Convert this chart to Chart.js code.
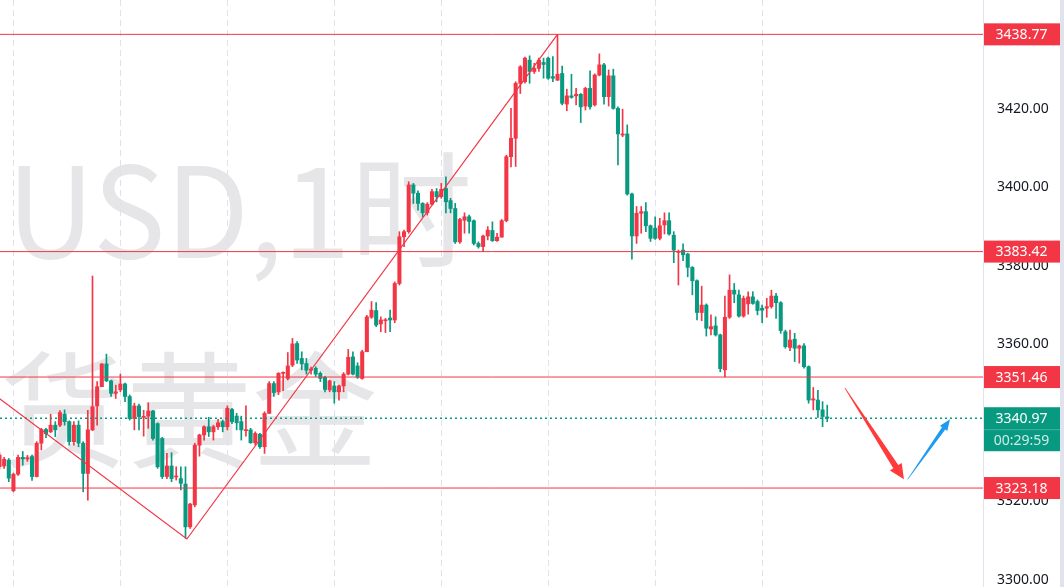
<!DOCTYPE html>
<html>
<head>
<meta charset="utf-8">
<script src="https://cdn.jsdelivr.net/npm/chart.js@4/dist/chart.umd.min.js"></script>
<style>
  html, body { margin: 0; padding: 0; background: #ffffff; }
  #wrap { width: 1064px; height: 587px; position: relative; }
</style>
</head>
<body>
<div id="wrap"><canvas id="goldChart"></canvas></div>
<script>
// hourly candles, XAUUSD
const opens = [
  3328.6, 3328.8, 3330.3, 3322.5, 3326.7, 3331.0, 3330.6, 3331.2, 3326.1, 3334.6,
  3338.1, 3337.5, 3339.2, 3339.2, 3342.0, 3340.1, 3335.0, 3339.2, 3334.6, 3326.9,
  3338.0, 3344.1, 3349.0, 3354.8, 3350.5, 3347.3, 3348.2, 3349.7, 3346.5, 3340.9,
  3344.1, 3341.2, 3341.5, 3342.8, 3339.6, 3335.8, 3326.1, 3328.8, 3326.0, 3325.6,
  3324.2, 3313.3, 3318.9, 3334.1, 3336.7, 3338.8, 3337.5, 3338.8, 3340.1, 3338.8,
  3343.2, 3341.5, 3340.1, 3337.8, 3338.0, 3334.7, 3336.9, 3333.7, 3342.2, 3349.8,
  3347.7, 3352.4, 3351.1, 3354.5, 3360.0, 3356.2, 3354.9, 3353.2, 3353.7, 3352.4,
  3351.4, 3348.2, 3349.2, 3347.7, 3349.2, 3352.2, 3356.6, 3354.3, 3351.1, 3357.9,
  3366.7, 3368.4, 3365.0, 3365.8, 3366.5, 3366.0, 3375.3, 3387.2, 3388.5, 3400.4,
  3398.3, 3395.7, 3393.3, 3395.5, 3398.7, 3397.4, 3399.5, 3396.4, 3394.4, 3385.9,
  3391.4, 3392.3, 3391.3, 3385.5, 3384.7, 3387.4, 3388.8, 3386.2, 3387.1, 3391.3,
  3407.6, 3412.3, 3426.3, 3426.7, 3432.2, 3429.3, 3430.1, 3431.6, 3432.7, 3428.0,
  3427.1, 3428.8, 3421.0, 3423.1, 3423.1, 3423.5, 3420.5, 3425.0, 3420.8, 3428.4,
  3431.0, 3422.9, 3428.2, 3419.9, 3413.1, 3413.4, 3398.1, 3387.4, 3393.2, 3393.6,
  3390.0, 3389.4, 3386.8, 3390.2, 3391.3, 3387.6, 3383.2, 3383.8, 3382.8, 3379.4,
  3376.0, 3367.9, 3369.8, 3363.7, 3364.5, 3362.2, 3353.3, 3366.7, 3373.6, 3372.4,
  3367.0, 3370.1, 3371.9, 3370.7, 3369.0, 3369.0, 3369.4, 3372.1, 3370.4, 3363.0,
  3359.0, 3361.1, 3358.8, 3359.4, 3354.1, 3345.6, 3345.6, 3343.1, 3341.3
];
const highs = [
  3332.2, 3331.0, 3330.7, 3327.0, 3331.6, 3332.5, 3331.5, 3331.6, 3335.0, 3338.4,
  3338.4, 3342.0, 3340.1, 3342.9, 3343.1, 3340.3, 3340.1, 3340.3, 3335.0, 3343.0,
  3377.2, 3350.3, 3354.9, 3357.3, 3350.7, 3349.4, 3352.2, 3349.9, 3346.9, 3344.8,
  3344.6, 3343.0, 3344.9, 3343.0, 3339.8, 3336.1, 3332.0, 3332.2, 3328.6, 3328.6,
  3328.6, 3319.3, 3334.6, 3336.9, 3339.0, 3341.2, 3339.2, 3340.7, 3340.5, 3344.1,
  3343.5, 3342.2, 3341.5, 3344.1, 3338.4, 3337.5, 3337.1, 3342.6, 3350.3, 3350.3,
  3352.6, 3352.8, 3357.7, 3361.3, 3360.5, 3357.9, 3356.2, 3354.0, 3354.1, 3352.8,
  3351.7, 3350.7, 3350.3, 3349.4, 3352.6, 3358.5, 3357.9, 3355.1, 3358.3, 3367.2,
  3370.7, 3370.4, 3366.8, 3366.4, 3368.5, 3375.7, 3388.5, 3388.9, 3401.2, 3400.8,
  3398.9, 3395.9, 3395.9, 3399.3, 3399.5, 3400.8, 3402.5, 3397.0, 3395.7, 3391.9,
  3393.3, 3392.7, 3391.5, 3385.9, 3387.6, 3389.8, 3391.0, 3388.1, 3391.6, 3408.0,
  3419.9, 3426.7, 3430.8, 3433.0, 3433.3, 3431.4, 3432.7, 3432.7, 3433.0, 3433.1,
  3438.77, 3430.7, 3424.8, 3428.6, 3425.0, 3423.7, 3425.3, 3429.5, 3428.7, 3433.8,
  3431.4, 3429.7, 3429.9, 3420.3, 3419.7, 3415.7, 3398.3, 3394.9, 3394.9, 3395.9,
  3390.2, 3392.3, 3391.9, 3393.3, 3393.3, 3388.5, 3383.8, 3385.4, 3383.0, 3379.6,
  3376.2, 3374.6, 3370.1, 3367.3, 3366.8, 3362.4, 3372.1, 3377.5, 3375.3, 3373.6,
  3372.1, 3373.2, 3373.2, 3371.1, 3369.8, 3371.5, 3373.6, 3372.8, 3370.7, 3363.4,
  3363.4, 3362.6, 3359.6, 3360.0, 3354.3, 3348.8, 3348.1, 3345.2, 3344.3
];
const lows = [
  3328.0, 3328.2, 3324.8, 3322.2, 3326.4, 3329.0, 3330.0, 3325.1, 3326.0, 3332.9,
  3336.0, 3337.3, 3336.3, 3338.8, 3339.2, 3334.1, 3334.1, 3333.7, 3322.2, 3320.1,
  3337.8, 3339.2, 3349.0, 3350.3, 3346.5, 3346.0, 3347.7, 3345.2, 3340.5, 3338.0,
  3338.0, 3336.4, 3338.4, 3335.4, 3328.2, 3325.6, 3325.6, 3324.8, 3325.2, 3322.7,
  3310.4, 3312.9, 3318.4, 3331.3, 3335.4, 3336.3, 3335.4, 3338.1, 3337.5, 3338.0,
  3339.6, 3338.0, 3335.4, 3336.4, 3334.6, 3334.1, 3333.3, 3332.0, 3342.2, 3346.5,
  3347.0, 3348.0, 3350.7, 3354.1, 3354.9, 3353.3, 3352.2, 3352.2, 3351.6, 3350.3,
  3347.7, 3347.7, 3344.8, 3345.6, 3347.7, 3352.0, 3352.0, 3351.1, 3350.9, 3357.9,
  3366.4, 3364.3, 3363.0, 3362.8, 3363.0, 3365.3, 3374.9, 3384.7, 3388.1, 3395.7,
  3394.0, 3392.3, 3392.7, 3395.3, 3396.1, 3397.0, 3393.3, 3393.3, 3385.5, 3385.5,
  3388.1, 3388.1, 3385.1, 3384.3, 3383.4, 3386.4, 3386.0, 3386.0, 3387.1, 3391.0,
  3405.0, 3405.1, 3423.7, 3426.3, 3426.3, 3428.8, 3429.3, 3427.6, 3427.3, 3426.7,
  3427.0, 3420.8, 3419.3, 3422.5, 3420.8, 3416.3, 3419.5, 3419.7, 3420.5, 3428.2,
  3421.0, 3420.5, 3419.7, 3405.5, 3412.7, 3397.8, 3381.5, 3385.5, 3388.1, 3388.5,
  3386.0, 3386.5, 3386.4, 3387.9, 3387.6, 3380.6, 3374.9, 3381.1, 3377.0, 3372.4,
  3366.0, 3365.8, 3361.9, 3362.2, 3361.9, 3352.8, 3351.5, 3366.4, 3370.4, 3366.7,
  3366.7, 3367.5, 3370.0, 3367.3, 3365.3, 3366.7, 3369.0, 3366.4, 3362.6, 3358.8,
  3358.2, 3355.4, 3355.0, 3353.7, 3344.8, 3343.1, 3341.2, 3338.8, 3340.1
];
const closes = [
  3331.6, 3330.5, 3325.7, 3326.7, 3331.0, 3330.6, 3330.9, 3326.1, 3334.6, 3338.1,
  3337.0, 3339.2, 3338.0, 3342.4, 3340.1, 3335.0, 3339.2, 3334.6, 3326.9, 3338.0,
  3343.9, 3349.0, 3354.8, 3350.5, 3347.3, 3347.7, 3349.7, 3346.5, 3340.9, 3344.1,
  3341.4, 3341.4, 3342.8, 3335.8, 3328.6, 3326.1, 3328.8, 3325.6, 3326.2, 3324.4,
  3313.3, 3319.1, 3334.1, 3336.7, 3338.8, 3337.5, 3338.8, 3339.8, 3338.8, 3343.5,
  3340.1, 3339.8, 3338.0, 3338.0, 3334.7, 3337.1, 3333.7, 3342.2, 3349.8, 3347.5,
  3352.4, 3352.6, 3354.3, 3359.9, 3355.8, 3354.8, 3353.2, 3353.5, 3352.2, 3351.1,
  3348.3, 3350.5, 3347.7, 3349.2, 3352.2, 3356.5, 3352.2, 3351.4, 3357.9, 3366.8,
  3368.5, 3364.7, 3366.0, 3366.0, 3366.0, 3375.3, 3387.2, 3388.5, 3400.4, 3398.3,
  3395.7, 3393.3, 3395.5, 3398.7, 3397.4, 3399.3, 3396.1, 3394.4, 3385.9, 3391.6,
  3392.3, 3391.1, 3385.5, 3384.7, 3387.4, 3388.9, 3386.2, 3387.1, 3391.3, 3407.6,
  3412.3, 3426.3, 3430.5, 3432.7, 3429.3, 3430.1, 3432.2, 3431.1, 3427.6, 3427.6,
  3428.6, 3421.2, 3423.1, 3422.7, 3423.5, 3420.3, 3425.0, 3420.3, 3428.4, 3431.0,
  3422.9, 3428.2, 3419.9, 3413.4, 3413.4, 3398.1, 3387.4, 3393.2, 3393.6, 3390.0,
  3386.8, 3386.8, 3390.0, 3391.3, 3387.9, 3383.8, 3383.4, 3382.6, 3379.4, 3376.0,
  3367.9, 3369.8, 3363.9, 3364.3, 3362.2, 3353.6, 3366.7, 3373.6, 3372.6, 3367.0,
  3371.5, 3371.9, 3370.2, 3368.4, 3368.5, 3369.4, 3372.1, 3370.4, 3363.3, 3359.2,
  3360.9, 3358.8, 3359.4, 3354.1, 3345.6, 3345.9, 3343.1, 3341.4, 3340.97
];

// horizontal levels, current price, right axis ticks
const levels = [3438.77, 3383.42, 3351.46, 3323.18];
const lastPrice = 3340.97;
const countdown = '00:29:59';
const priceTicks = [3300, 3320, 3340, 3360, 3380, 3400, 3420, 3440];
// candle index of each day start (vertical grid)
const dayBreaks = [3, 26, 49, 72, 95, 118, 141, 164];

// drawn lines: [candle index, price]
const trendPoints = [[0, 3345.97], [40.3, 3310.2], [120, 3438.77]];
const arrowDown = [[181.8, 3348.67], [194.5, 3325.4]];
const arrowUp = [[195.3, 3325.4], [204.4, 3340.69]];

const UP = '#F23645';
const DOWN = '#089981';
const X_MIN = 0.11, X_MAX = 211.5;
const Y_MIN = 3297.97, Y_MAX = 3447.52;
const AXIS_W = 81;

const idx = closes.map((c, i) => i);
const candleColors = closes.map((c, i) => c >= opens[i] ? UP : DOWN);

const levelSets = levels.map(p => ({
    type: 'line',
    data: [{x: X_MIN, y: p}, {x: X_MAX, y: p}],
    borderColor: UP,
    borderWidth: 1,
    pointRadius: 0,
    order: -1
}));

// background, watermark, dashed day grid
const backdrop = {
    id: 'backdrop',
    beforeDraw(chart) {
        const ctx = chart.ctx, xs = chart.scales.x, area = chart.chartArea;
        ctx.save();
        ctx.fillStyle = '#ffffff';
        ctx.fillRect(0, 0, chart.width, chart.height);

        ctx.fillStyle = 'rgba(140,143,153,0.22)';
        ctx.font = '126px "Noto Sans CJK SC"';
        ctx.textAlign = 'right';
        ctx.textBaseline = 'alphabetic';
        ctx.save();
        ctx.translate(472, 258);
        ctx.scale(0.965, 1);
        ctx.fillText('XAUUSD,1时', 0, 0);
        ctx.restore();
        ctx.fillText('现货黄金', 378, 458);

        ctx.strokeStyle = '#dfe2ea';
        ctx.lineWidth = 1;
        ctx.setLineDash([6, 4]);
        dayBreaks.forEach(v => {
            const x = Math.round(xs.getPixelForValue(v)) + 0.5;
            ctx.beginPath();
            ctx.moveTo(x, area.top);
            ctx.lineTo(x, area.bottom);
            ctx.stroke();
        });
        ctx.restore();
    }
};

function drawArrow(ctx, x1, y1, x2, y2, color, shaftW, headL, headW) {
    const len = Math.hypot(x2 - x1, y2 - y1);
    const dx = (x2 - x1) / len, dy = (y2 - y1) / len;
    const nx = -dy, ny = dx;
    const bx = x2 - dx * headL, by = y2 - dy * headL;
    ctx.beginPath();
    ctx.moveTo(x1 + nx * 0.3, y1 + ny * 0.3);
    ctx.lineTo(bx + nx * shaftW / 2, by + ny * shaftW / 2);
    ctx.lineTo(bx + nx * headW / 2, by + ny * headW / 2);
    ctx.lineTo(x2, y2);
    ctx.lineTo(bx - nx * headW / 2, by - ny * headW / 2);
    ctx.lineTo(bx - nx * shaftW / 2, by - ny * shaftW / 2);
    ctx.lineTo(x1 - nx * 0.3, y1 - ny * 0.3);
    ctx.closePath();
    ctx.fillStyle = color;
    ctx.fill();
}

const overlays = {
    id: 'overlays',
    afterDatasetsDraw(chart) {
        const ctx = chart.ctx, xs = chart.scales.x, ys = chart.scales.y;
        const px = p => [xs.getPixelForValue(p[0]), ys.getPixelForValue(p[1])];
        const a = px(arrowDown[0]), b = px(arrowDown[1]);
        drawArrow(ctx, a[0], a[1], b[0], b[1], '#FF3B3B', 6, 15, 14);
        const c = px(arrowUp[0]), d = px(arrowUp[1]);
        drawArrow(ctx, c[0], c[1], d[0], d[1], '#1E9BF0', 4, 11, 9);
    },
    afterDraw(chart) {
        const ctx = chart.ctx, ys = chart.scales.y;
        const left = chart.chartArea.right;
        const right = 1060;
        const mid = (left + right) / 2;
        ctx.save();
        // price axis
        ctx.fillStyle = '#ffffff';
        ctx.fillRect(left, 0, chart.width - left, chart.height);
        ctx.fillStyle = '#e0e3eb';
        ctx.fillRect(left, 0, 1, chart.height);
        ctx.font = '14px "Noto Sans"';
        ctx.textAlign = 'left';
        ctx.textBaseline = 'middle';
        ctx.fillStyle = '#131722';
        priceTicks.forEach(v => {
            ctx.fillText(v.toFixed(2), left + 14, ys.getPixelForValue(v) + 0.5);
        });
        // level tags
        ctx.textAlign = 'center';
        levels.forEach(p => {
            const y = ys.getPixelForValue(p);
            ctx.fillStyle = UP;
            ctx.fillRect(left + 1, y - 11, right - left - 1, 22);
            ctx.fillStyle = '#ffffff';
            ctx.fillText(p.toFixed(2), mid, y + 0.5);
        });
        const y = ys.getPixelForValue(lastPrice);
        ctx.fillStyle = DOWN;
        ctx.fillRect(left + 1, y - 11, right - left - 1, 44);
        ctx.fillStyle = 'rgba(255,255,255,0.25)';
        ctx.fillRect(left + 1, y + 11, right - left - 1, 1);
        ctx.fillStyle = '#ffffff';
        ctx.fillText(lastPrice.toFixed(2), mid, y + 0.5);
        ctx.fillStyle = 'rgba(255,255,255,0.8)';
        ctx.fillText(countdown, mid, y + 22.5);
        // scrollbar strip at the far right
        ctx.fillStyle = '#e0e3eb';
        ctx.fillRect(right, 0, chart.width - right, chart.height);
        ctx.restore();
    }
};

new Chart(document.getElementById('goldChart'), {
    type: 'bar',
    data: {
        datasets: [
            {
                type: 'line',
                data: trendPoints.map(p => ({x: p[0], y: p[1]})),
                borderColor: UP,
                borderWidth: 1.2,
                pointRadius: 0,
                order: -1
            },
            ...levelSets,
            {
                type: 'line',
                data: [{x: X_MIN, y: lastPrice}, {x: X_MAX, y: lastPrice}],
                borderColor: DOWN,
                borderWidth: 1.6,
                borderDash: [2, 3],
                pointRadius: 0,
                order: -1
            },
            {
                // bodies
                data: idx.map(i => ({x: i, y: [opens[i], closes[i]]})),
                backgroundColor: candleColors,
                barThickness: 3.4,
                minBarLength: 1,
                grouped: false,
                order: 0
            },
            {
                // wicks
                data: idx.map(i => ({x: i, y: [lows[i], highs[i]]})),
                backgroundColor: candleColors,
                barThickness: 1,
                grouped: false,
                order: 1
            }
        ]
    },
    options: {
        responsive: true,
        maintainAspectRatio: false,
        animation: false,
        layout: { padding: { left: 0, top: 0, bottom: 0, right: AXIS_W } },
        plugins: {
            legend: { display: false },
            tooltip: { enabled: false }
        },
        scales: {
            x: {
                type: 'linear',
                display: false,
                min: X_MIN,
                max: X_MAX,
                offset: false,
                grid: { offset: false }
            },
            y: {
                display: false,
                min: Y_MIN,
                max: Y_MAX
            }
        }
    },
    plugins: [backdrop, overlays]
});
</script>
</body>
</html>
